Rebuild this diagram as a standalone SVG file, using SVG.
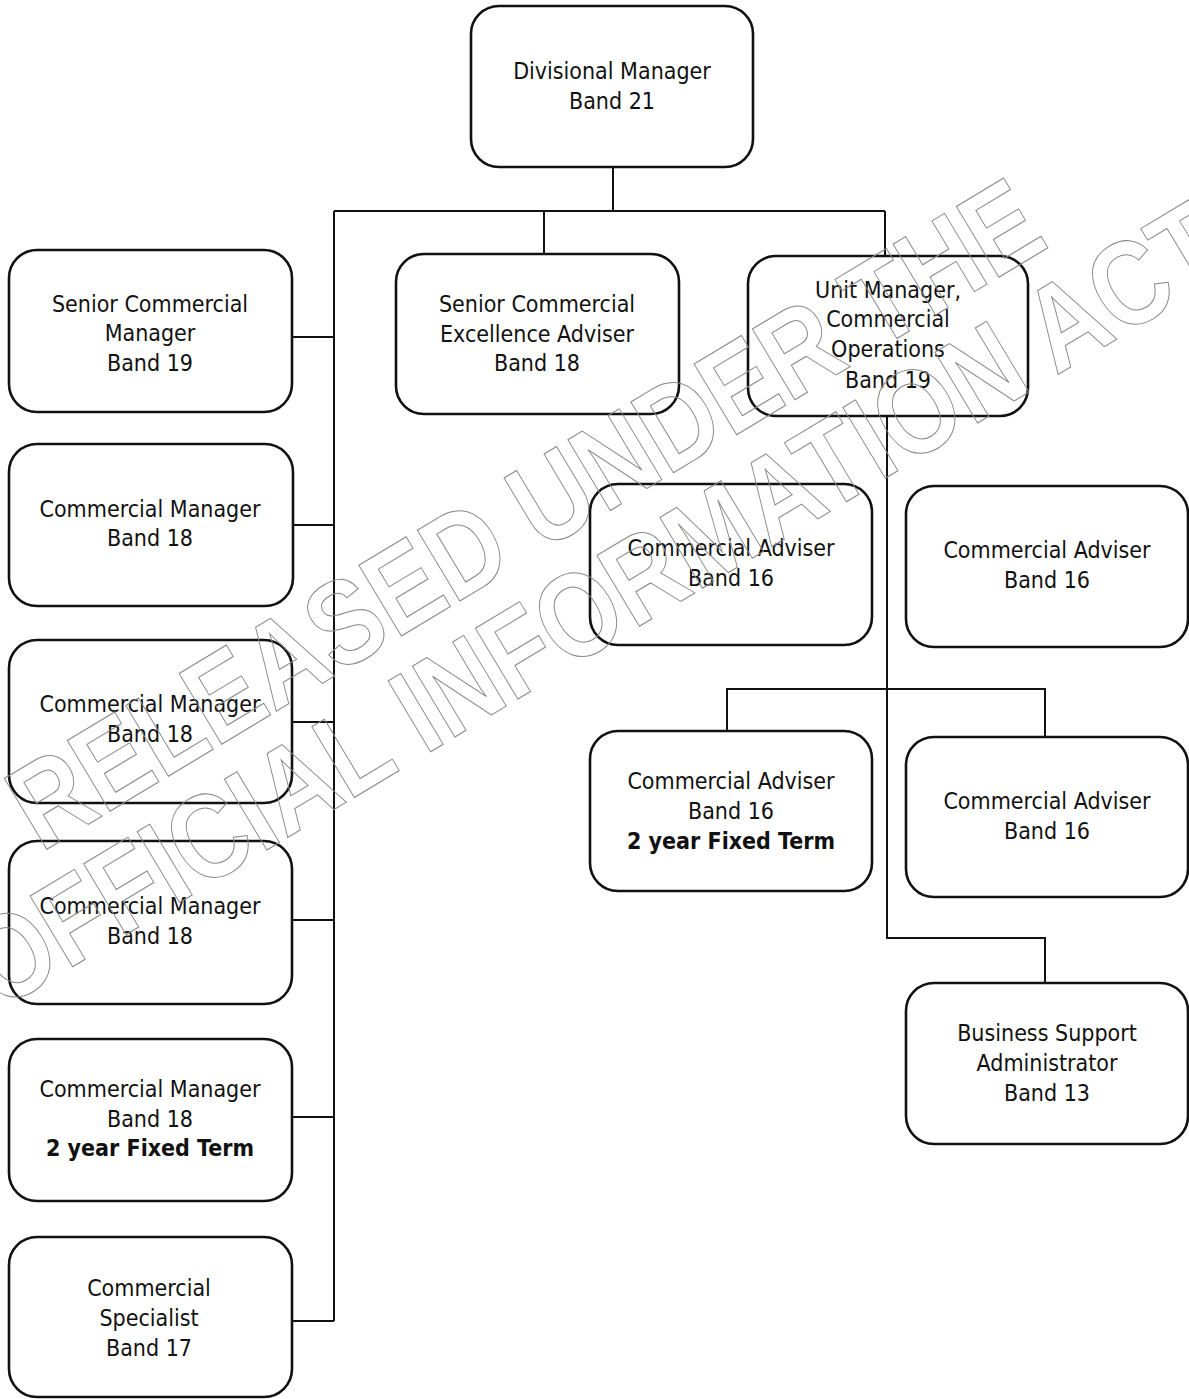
<svg xmlns="http://www.w3.org/2000/svg" width="1189" height="1399" viewBox="0 0 1189 1399">
  <style>
    .box { fill: none; stroke: #111; stroke-width: 2.6; }
    .lbl { font-family: "DejaVu Sans Condensed", "DejaVu Sans", sans-serif; font-stretch: condensed; font-size: 23px; fill: #111; text-anchor: middle; }
    .lbl .b { font-weight: bold; }
    .wire { fill: none; stroke: #111; stroke-width: 2; }
    .mark { font-family: "Liberation Sans", Arial, sans-serif; font-weight: bold; font-size: 120px; fill: none; stroke: #8a8a8a; stroke-width: 1; vector-effect: non-scaling-stroke; text-anchor: middle; }
  </style>
  <rect width="1189" height="1399" fill="#fff"/>

  <!-- reporting lines -->
  <g id="connectors">
    <polyline class="wire" points="613,167 613,211"/>
    <polyline class="wire" points="334,211 885,211"/>
    <polyline class="wire" points="544,211 544,254"/>
    <polyline class="wire" points="885,211 885,256"/>
    <polyline class="wire" points="334,211 334,1321"/>
    <polyline class="wire" points="292,337 334,337"/>
    <polyline class="wire" points="293,525 334,525"/>
    <polyline class="wire" points="292,722 334,722"/>
    <polyline class="wire" points="292,920 334,920"/>
    <polyline class="wire" points="292,1117 334,1117"/>
    <polyline class="wire" points="292,1321 334,1321"/>
    <polyline class="wire" points="887,416 887,938 1045,938 1045,983"/>
    <polyline class="wire" points="727,731 727,689 1045,689 1045,737"/>
  </g>

  <g id="divisional-manager">
    <rect class="box" x="471" y="6" width="282" height="161" rx="28"/>
    <text class="lbl"><tspan x="612" y="79">Divisional Manager</tspan><tspan x="612" y="109">Band 21</tspan></text>
  </g>
  <g id="senior-commercial-manager">
    <rect class="box" x="9" y="250" width="283" height="162" rx="28"/>
    <text class="lbl"><tspan x="150" y="312">Senior Commercial</tspan><tspan x="150" y="341">Manager</tspan><tspan x="150" y="371">Band 19</tspan></text>
  </g>
  <g id="senior-commercial-excellence-adviser">
    <rect class="box" x="396" y="254" width="283" height="160" rx="28"/>
    <text class="lbl"><tspan x="537" y="312">Senior Commercial</tspan><tspan x="537" y="342">Excellence Adviser</tspan><tspan x="537" y="371">Band 18</tspan></text>
  </g>
  <g id="unit-manager">
    <rect class="box" x="748" y="256" width="280" height="160" rx="28"/>
    <text class="lbl"><tspan x="888" y="298">Unit Manager,</tspan><tspan x="888" y="327">Commercial</tspan><tspan x="888" y="357">Operations</tspan><tspan x="888" y="388">Band 19</tspan></text>
  </g>
  <g id="commercial-manager-1">
    <rect class="box" x="9" y="444" width="284" height="162" rx="28"/>
    <text class="lbl"><tspan x="150" y="517">Commercial Manager</tspan><tspan x="150" y="546">Band 18</tspan></text>
  </g>
  <g id="commercial-manager-2">
    <rect class="box" x="9" y="640" width="283" height="163" rx="28"/>
    <text class="lbl"><tspan x="150" y="712">Commercial Manager</tspan><tspan x="150" y="742">Band 18</tspan></text>
  </g>
  <g id="commercial-manager-3">
    <rect class="box" x="9" y="841" width="283" height="163" rx="28"/>
    <text class="lbl"><tspan x="150" y="914">Commercial Manager</tspan><tspan x="150" y="944">Band 18</tspan></text>
  </g>
  <g id="commercial-manager-fixed-term">
    <rect class="box" x="9" y="1039" width="283" height="162" rx="28"/>
    <text class="lbl"><tspan x="150" y="1097">Commercial Manager</tspan><tspan x="150" y="1127">Band 18</tspan><tspan class="b" x="150" y="1156">2 year Fixed Term</tspan></text>
  </g>
  <g id="commercial-specialist">
    <rect class="box" x="9" y="1237" width="283" height="160" rx="28"/>
    <text class="lbl"><tspan x="149" y="1296">Commercial</tspan><tspan x="149" y="1326">Specialist</tspan><tspan x="149" y="1356">Band 17</tspan></text>
  </g>
  <g id="commercial-adviser-1">
    <rect class="box" x="590" y="484" width="282" height="161" rx="28"/>
    <text class="lbl"><tspan x="731" y="556">Commercial Adviser</tspan><tspan x="731" y="586">Band 16</tspan></text>
  </g>
  <g id="commercial-adviser-2">
    <rect class="box" x="906" y="486" width="282" height="161" rx="28"/>
    <text class="lbl"><tspan x="1047" y="558">Commercial Adviser</tspan><tspan x="1047" y="588">Band 16</tspan></text>
  </g>
  <g id="commercial-adviser-fixed-term">
    <rect class="box" x="590" y="731" width="282" height="160" rx="28"/>
    <text class="lbl"><tspan x="731" y="789">Commercial Adviser</tspan><tspan x="731" y="819">Band 16</tspan><tspan class="b" x="731" y="849">2 year Fixed Term</tspan></text>
  </g>
  <g id="commercial-adviser-3">
    <rect class="box" x="906" y="737" width="282" height="160" rx="28"/>
    <text class="lbl"><tspan x="1047" y="809">Commercial Adviser</tspan><tspan x="1047" y="839">Band 16</tspan></text>
  </g>
  <g id="business-support-administrator">
    <rect class="box" x="906" y="983" width="282" height="161" rx="28"/>
    <text class="lbl"><tspan x="1047" y="1041">Business Support</tspan><tspan x="1047" y="1071">Administrator</tspan><tspan x="1047" y="1101">Band 13</tspan></text>
  </g>

  <!-- diagonal release stamp, narrow outlined capitals -->
  <g id="release-stamp" transform="rotate(-31) scale(0.85 1)">
    <text class="mark" x="218" y="752">RELEASED UNDER THE</text>
    <text class="mark" x="235" y="866">OFFICIAL INFORMATION ACT</text>
  </g>
</svg>
